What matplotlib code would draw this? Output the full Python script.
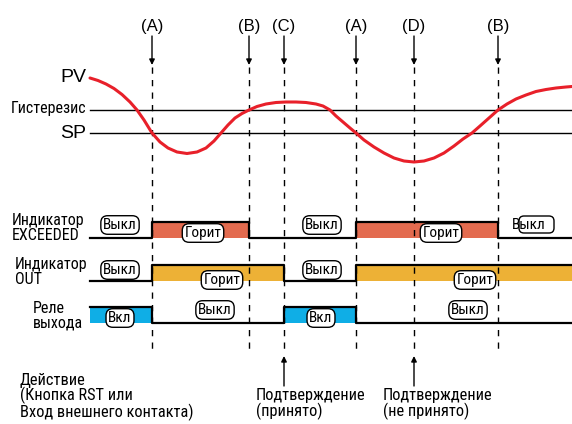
import matplotlib.pyplot as plt
from matplotlib.patches import FancyBboxPatch

COND = ["Roboto Condensed", "DejaVu Sans"]
REG = ["Liberation Sans", "DejaVu Sans"]
plt.rcParams["font.family"] = COND

# Process value curve (x, y in picture units)
pv_x = [90, 98, 106, 114, 122, 130, 137, 144, 152, 160, 168, 177, 187, 197,
        206, 214, 221, 228, 235, 242, 249, 257, 266, 276, 286, 296, 306, 316,
        323, 330, 336, 343, 350, 356, 364, 374, 384, 394, 404, 414, 424, 434,
        444, 454, 463, 472, 480, 489, 498, 507, 516, 526, 536, 546, 556, 566, 572]
pv_y = [78, 80.5, 84, 88.5, 94.5, 102, 110, 120, 133, 142, 148, 152, 153.5, 152,
        148, 141, 133, 125, 118, 113.5, 110, 106.5, 104, 102.5, 102, 102, 102.5, 104,
        106, 110, 116, 122, 128, 133, 140, 147, 153, 158, 161, 162, 161, 158,
        153, 146, 139, 133, 126, 118, 110, 104, 99, 95, 91.5, 89.5, 88, 87, 86.5]

# Event markers
event_x = [152, 249, 284, 356, 414, 498]
event_lab = ["(A)", "(B)", "(C)", "(A)", "(D)", "(B)"]

# Signal timing: edges and state per segment
exc_edges = [90, 152, 249, 356, 498, 572]
exc_state = [0, 1, 0, 1, 0]
out_edges = [90, 152, 284, 356, 572]
out_state = [0, 1, 0, 1]
rel_edges = [90, 152, 284, 356, 572]
rel_state = [1, 0, 1, 0]

fig = plt.figure(figsize=(5.72, 4.24), dpi=100)
ax = fig.add_axes([0, 0, 1, 1])
ax.set_xlim(0, 572)
ax.set_ylim(424, 0)
ax.axis("off")

# event arrows and dashed lines
for x, lab in zip(event_x, event_lab):
    ax.text(x, 27, lab, ha="center", va="center", fontsize=12, family=REG)
    ax.annotate("", xy=(x, 65), xytext=(x, 36),
                arrowprops=dict(arrowstyle="-|>", color="black", lw=1,
                                mutation_scale=8, shrinkA=0, shrinkB=0))
    ax.plot([x, x], [67, 350], color="black", lw=1, ls=(0, (4.5, 4.5)))

# PV, hysteresis, SP
ax.plot([90, 572], [110, 110], color="black", lw=1)
ax.plot([90, 572], [133, 133], color="black", lw=1)
ax.plot(pv_x, pv_y, color="#E8202A", lw=2.2, solid_capstyle="round",
        solid_joinstyle="round")
ax.text(86, 78, "PV", ha="right", va="center", fontsize=14, family=REG)
ax.text(86, 109, "Гистерезис", ha="right", va="center", fontsize=11.5)
ax.text(86, 133, "SP", ha="right", va="center", fontsize=14, family=REG)


def signal(edges, states, y_lo, y_hi, color):
    xs, ys = [], []
    for i, s in enumerate(states):
        y = y_hi if s else y_lo
        if s:
            ax.fill_between([edges[i], edges[i + 1]], y_lo, y_hi,
                            color=color, lw=0)
        xs += [edges[i], edges[i + 1]]
        ys += [y, y]
    ax.plot(xs, ys, color="black", lw=1.6)


def tag(x, y, s):
    ax.text(x, y, s, ha="center", va="center", fontsize=11,
            bbox=dict(boxstyle="round,pad=0.15,rounding_size=0.45",
                      fc="white", ec="black", lw=1))


signal(exc_edges, exc_state, 238, 222, "#E36B4F")
signal(out_edges, out_state, 281, 265, "#EDB136")
signal(rel_edges, rel_state, 323, 307, "#0FAEE6")

ax.text(12, 228, "Индикатор\nEXCEEDED", ha="left", va="center",
        fontsize=11.5, linespacing=1.0)
ax.text(15, 272, "Индикатор\nOUT", ha="left", va="center",
        fontsize=11.5, linespacing=1.0)
ax.text(33, 316, "Реле\nвыхода", ha="left", va="center",
        fontsize=11.5, linespacing=1.0)

tag(120, 225, "Выкл")
tag(203, 233, "Горит")
tag(322, 225, "Выкл")
tag(441, 233, "Горит")
ax.add_patch(FancyBboxPatch((519, 216), 35, 17,
                            boxstyle="round,pad=0,rounding_size=5",
                            fc="white", ec="black", lw=1))
ax.text(512, 225, "Выкл", ha="left", va="center", fontsize=11)

tag(120, 270, "Выкл")
tag(222, 280, "Горит")
tag(322, 270, "Выкл")
tag(475, 280, "Горит")

tag(120, 318, "Вкл")
tag(215, 310, "Выкл")
tag(321, 318, "Вкл")
tag(468, 310, "Выкл")

# acknowledge arrows
for x in [284, 414]:
    ax.annotate("", xy=(x, 356), xytext=(x, 386),
                arrowprops=dict(arrowstyle="-|>", color="black", lw=1,
                                mutation_scale=8, shrinkA=0, shrinkB=0))

ax.text(20, 397, "Действие\n(Кнопка RST или\nВход внешнего контакта)",
        ha="left", va="center", fontsize=11.8, linespacing=0.98)
ax.text(256, 404, "Подтверждение\n(принято)", ha="left", va="center",
        fontsize=11.8, linespacing=0.98)
ax.text(383, 404, "Подтверждение\n(не принято)", ha="left", va="center",
        fontsize=11.8, linespacing=0.98)

fig.savefig("out.png", dpi=100)
